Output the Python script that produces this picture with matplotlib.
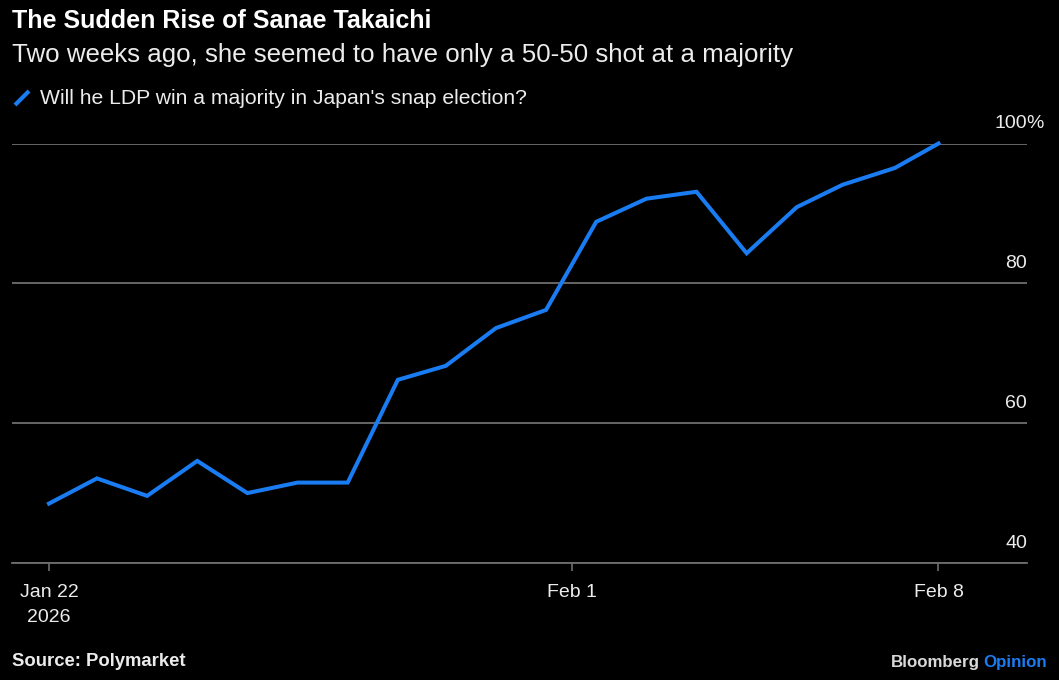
import matplotlib
matplotlib.use("Agg")
import matplotlib.pyplot as plt
import matplotlib.transforms as mtransforms
import pandas as pd

# ---- data ----
timestamps = [
    "2026-01-22 00:00", "2026-01-22 22:00", "2026-01-23 21:00", "2026-01-24 20:00",
    "2026-01-25 19:00", "2026-01-26 18:00", "2026-01-27 17:00", "2026-01-28 16:00",
    "2026-01-29 14:00", "2026-01-30 13:00", "2026-01-31 12:00", "2026-02-01 11:00",
    "2026-02-02 10:00", "2026-02-03 09:00", "2026-02-04 08:00", "2026-02-05 07:00",
    "2026-02-06 04:00", "2026-02-07 04:00", "2026-02-08 00:00",
]
probability = [48.5, 52.1, 49.6, 54.6, 50.0, 51.5, 51.5, 66.2, 68.2, 73.6, 76.2,
               88.8, 92.1, 93.1, 84.3, 90.9, 94.1, 96.5, 100.0]
y_ticks = [40, 60, 80, 100]
x_tick_dates = ["2026-01-22", "2026-02-01", "2026-02-08"]
x_tick_labels = ["Jan 22\n2026", "Feb 1", "Feb 8"]

title = "The Sudden Rise of Sanae Takaichi"
subtitle = "Two weeks ago, she seemed to have only a 50-50 shot at a majority"
legend_label = "Will he LDP win a majority in Japan's snap election?"
source = "Source: Polymarket"

# ---- style ----
BG = "#000000"
LINE = "#1a7cf2"
GRID = "#6e6e6e"
TXT = "#ececec"
FONT = ["Liberation Sans", "DejaVu Sans"]
plt.rcParams["font.family"] = FONT

W, H = 1059, 680
fig = plt.figure(figsize=(W / 100, H / 100), dpi=100, facecolor=BG)
left, right, bottom, top = 12, 1027, 563, 143.5
ax = fig.add_axes([left / W, 1 - bottom / H, (right - left) / W, (bottom - top) / H])
ax.set_facecolor(BG)

x = pd.to_datetime(timestamps)
ax.plot(x, probability, color=LINE, lw=2.9, solid_joinstyle="miter", clip_on=False, zorder=3)

t0 = pd.Timestamp(x_tick_dates[0])
t1 = pd.Timestamp(x_tick_dates[-1])
ax.set_xlim(t0 - pd.Timedelta(days=37 / 52.32), t1 + pd.Timedelta(days=88.5 / 52.32))
ax.set_ylim(40, 100)

for s in ["top", "right", "left"]:
    ax.spines[s].set_visible(False)
ax.spines["bottom"].set_color(GRID)
ax.spines["bottom"].set_linewidth(1.3)

ax.set_yticks(y_ticks)
ax.tick_params(axis="y", length=0, labelleft=False, labelright=False)
ax.yaxis.grid(True, color=GRID, lw=1.3)
ax.set_axisbelow(True)

ax.set_xticks(pd.to_datetime(x_tick_dates))
ax.set_xticklabels(x_tick_labels, color=TXT, fontsize=14, linespacing=1.65)
ax.tick_params(axis="x", length=6, width=1.2, color=GRID, pad=9)

# y labels above gridlines on the right
trans = mtransforms.blended_transform_factory(ax.transAxes, ax.transData)
off = mtransforms.ScaledTranslation(0, 11 / 100, fig.dpi_scale_trans)
for v in y_ticks:
    ax.text(1.0, v, f"{v}", transform=trans + off, ha="right", va="bottom",
            color=TXT, fontsize=14)
off_pct = mtransforms.ScaledTranslation(-1 / 100, 11 / 100, fig.dpi_scale_trans)
ax.text(1.0, y_ticks[-1], "%", transform=trans + off_pct, ha="left", va="bottom",
        color=TXT, fontsize=14)

# titles
fig.text(12 / W, 1 - 21 / H, title, color="#ffffff", fontsize=18, fontweight="bold",
         ha="left", va="center")
fig.text(12 / W, 1 - 55 / H, subtitle, color=TXT, fontsize=18.6, ha="left", va="center")

# legend
fig.lines.append(plt.Line2D([15 / W, 29 / W], [1 - 105 / H, 1 - 91 / H], color=LINE,
                            lw=3, transform=fig.transFigure, solid_capstyle="butt"))
fig.text(40 / W, 1 - 98 / H, legend_label, color=TXT, fontsize=15.2, ha="left", va="center")

# footer
fig.text(12 / W, 1 - 662 / H, source, color=TXT, fontsize=13.3, fontweight="bold",
         ha="left", va="center")
op = fig.text(1047 / W, 1 - 662 / H, "Opinion", color=LINE, fontsize=12.2,
              fontweight="bold", ha="right", va="center")
fig.canvas.draw()
bb = op.get_window_extent()
fig.text((bb.x0 - 4) / W, 1 - 662 / H, "Bloomberg", color="#d9d9d9", fontsize=12.2,
         fontweight="bold", ha="right", va="center")

fig.savefig("out.png", dpi=100, facecolor=BG)
